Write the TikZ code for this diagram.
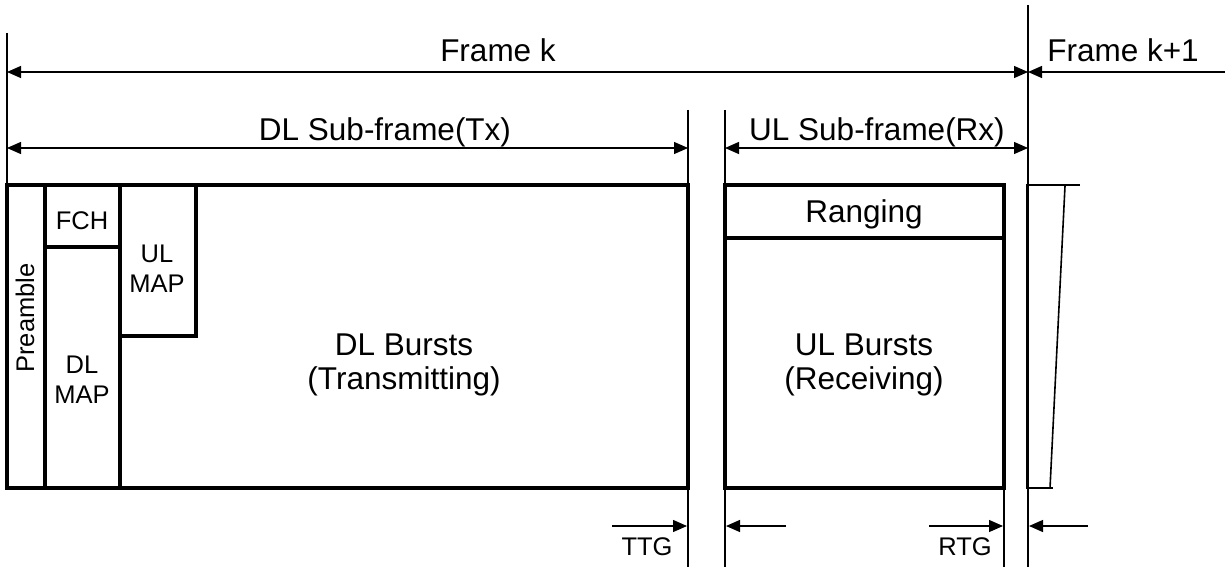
\documentclass[tikz,border=0pt]{standalone}
\usepackage{fontspec}
\setmainfont{Liberation Sans}
\usetikzlibrary{arrows.meta}
\begin{document}
\begin{tikzpicture}[x=1pt,y=-1pt,
  boxline/.style={line width=3.1pt},
  rule/.style={line width=1.3pt},
  tip/.tip={Triangle[length=14pt,width=12pt]},
  dim/.style={rule,tip-tip},
  onearrow/.style={rule,-tip},
  big/.style={font=\fontsize{31.5}{34}\selectfont, inner sep=0, align=center},
  small/.style={font=\fontsize{25.5}{29.5}\selectfont, inner sep=0, align=center},
]
\useasboundingbox (0,0) rectangle (1225,567);

% ---- coordinates of vertical marker lines
\coordinate (vA0) at (7,33);    \coordinate (vA1) at (7,185);
\coordinate (vB0) at (688,110); \coordinate (vB1) at (688,567);
\coordinate (vC0) at (725,110); \coordinate (vC1) at (725,567);
\coordinate (vD0) at (1004,488);\coordinate (vD1) at (1004,567);
\coordinate (vE0) at (1028,5);  \coordinate (vE1) at (1028,567);
\draw[rule] (vA0) -- (vA1);
\draw[rule] (vB0) -- (vB1);
\draw[rule] (vC0) -- (vC1);
\draw[rule] (vD0) -- (vD1);
\draw[rule] (vE0) -- (vE1);

% ---- dimension arrows
\coordinate (fkL) at (7,72);   \coordinate (fkR) at (1028,72);
\coordinate (fk1R) at (1225,72);
\coordinate (dlL) at (7,148);  \coordinate (dlR) at (688,148);
\coordinate (ulL) at (725,148); \coordinate (ulR) at (1028,148);
\draw[dim] (fkL) -- (fkR);
\draw[onearrow] (fk1R) -- (fkR);
\draw[dim] (dlL) -- (dlR);
\draw[dim] (ulL) -- (ulR);

\node[big, anchor=base] (tfk)  at (498,62)  {Frame k};
\node[big, anchor=base] (tfk1) at (1123,62) {Frame k+1};
\node[big, anchor=base] (tdl)  at (385,140) {DL Sub-frame(Tx)};
\node[big, anchor=base] (tul)  at (877,140) {UL Sub-frame(Rx)};

% ---- DL sub-frame
\draw[boxline] (7,185) rectangle (688,488);
\draw[boxline] (45,185) -- (45,488);
\draw[boxline] (120,185) -- (120,488);
\draw[boxline] (45,247) -- (120,247);
\draw[boxline] (120,336) -- (196,336) -- (196,185);

\node[small, rotate=90] (pre) at (25,318) {Preamble};
\node[small, anchor=base] (fch) at (82,229) {FCH};
\node[small, anchor=base] (ulmap) at (157,292) {UL\\MAP};
\node[small, anchor=base] (dlmap) at (82,403) {DL\\MAP};
\node[big, anchor=base] (dlb) at (404,389) {DL Bursts\\(Transmitting)};

% ---- UL sub-frame
\draw[boxline] (725,185) rectangle (1004,488);
\draw[boxline] (725,238) -- (1004,238);
\node[big, anchor=base] (rng) at (864,222) {Ranging};
\node[big, anchor=base] (ulb) at (864,389) {UL Bursts\\(Receiving)};

% ---- next frame start
\draw[line width=2.2pt] (1080,185) -- (1027,185) -- (1027,488) -- (1053,488);
\draw[line width=1.6pt] (1065,186) -- (1050,488);

% ---- gap arrows
\coordinate (ttgS) at (612,526); \coordinate (ttgE) at (687,526);
\coordinate (r1S) at (786,526);  \coordinate (r1E) at (726,526);
\coordinate (rtgS) at (929,526); \coordinate (rtgE) at (1003,526);
\coordinate (r2S) at (1088,526); \coordinate (r2E) at (1029,526);
\draw[onearrow] (ttgS) -- (ttgE);
\draw[onearrow] (r1S) -- (r1E);
\draw[onearrow] (rtgS) -- (rtgE);
\draw[onearrow] (r2S) -- (r2E);
\node[small, anchor=base] (ttg) at (647,555) {TTG};
\node[small, anchor=base] (rtg) at (965,555) {RTG};
\end{tikzpicture}
\end{document}
